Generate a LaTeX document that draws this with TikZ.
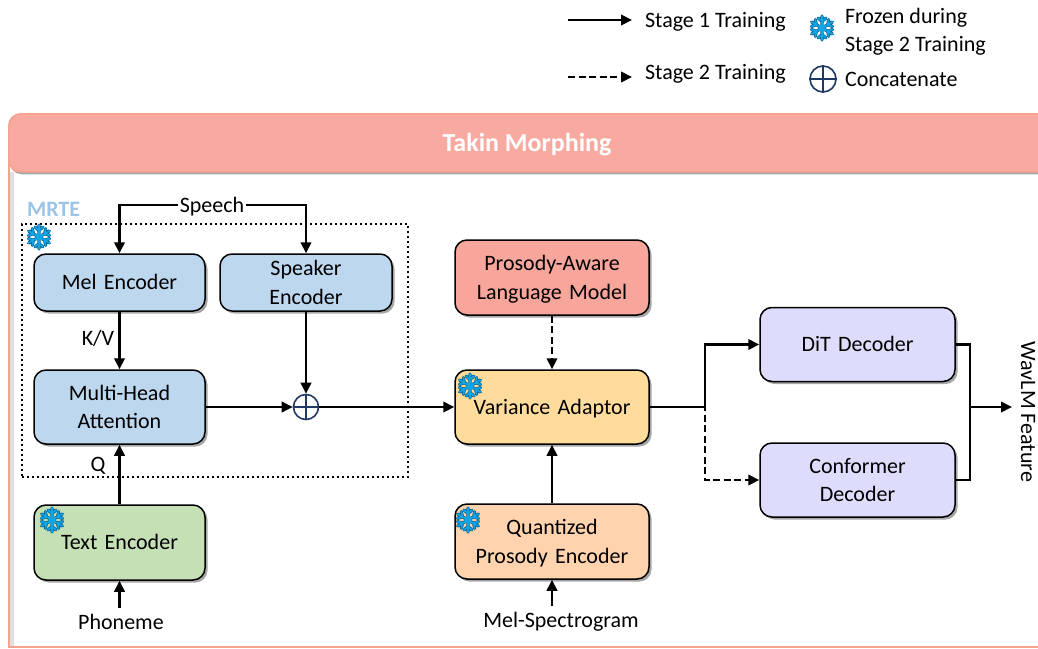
\documentclass[tikz,border=0pt]{standalone}
\usepackage{fontspec}
\setmainfont{Carlito}
\usepackage{xcolor}
\usetikzlibrary{positioning,arrows.meta,shadows}
\definecolor{headcol}{HTML}{F8AAA0}
\definecolor{framecol}{HTML}{F7A28E}
\definecolor{melcol}{HTML}{BDD7EE}
\definecolor{mrtecol}{HTML}{9DC3E6}
\definecolor{textcol}{HTML}{C5E0B4}
\definecolor{plmcol}{HTML}{F8A59B}
\definecolor{varcol}{HTML}{FFDC9C}
\definecolor{quantcol}{HTML}{FFD3AE}
\definecolor{deccol}{HTML}{DEDCFC}
\definecolor{navycol}{HTML}{203864}
\definecolor{flakecol}{HTML}{10A5E5}
\definecolor{flakeedge}{HTML}{0B5F8F}
\tikzset{
->, % arrows on every line
>={Triangle[length=11pt,width=10.5pt]},
x=1pt, y=-1pt,
every node/.style={font=\fontsize{22}{28.5}\selectfont},
block/.style={draw=black, line width=1.5pt, rounded corners=12pt, text width=170pt, align=center, inner sep=0pt,
  drop shadow={shadow xshift=2.5pt, shadow yshift=-2.5pt, opacity=.35, fill=black}},
strutted/.style={execute at begin node={\rule[-5pt]{0pt}{24pt}}},
stagetwo/.style={dash pattern=on 7pt off 3.5pt},
label/.style={inner sep=1pt, text height=19pt, text depth=5pt},
flakeline/.style={-, line cap=round},
snowflake/.pic={
  \foreach \col/\wid in {flakeedge/3.2pt, flakecol/1.7pt}{
    \foreach \ang in {30,90,...,330}{
      \draw[flakeline, draw=\col, line width=\wid, rotate=\ang] (0,0) -- (12,0)
        (6.5,0) -- (10,-4) (6.5,0) -- (10,4);
    }
  }
  \fill[flakecol] (0,0) circle (3.6);
},
}

\begin{document}
\begin{tikzpicture}[line width=2.1pt]
\useasboundingbox (0,0) rectangle (1038,648);
% outer frame
\draw[-, draw=framecol, line width=2pt] (8.5,160) -- (8.5,647) -- (1038,647);
\fill[black, opacity=.12] (10,172) rectangle (14,646);
\node[draw=framecol, fill=headcol, line width=1.5pt, rounded corners=12pt, minimum width=1040pt, minimum height=58pt, inner sep=0pt, anchor=north west,
  drop shadow={shadow xshift=1pt, shadow yshift=-2.5pt, opacity=.35, fill=black}] (head) at (8,113) {};
\node[white, label, font=\fontsize{26}{30}\selectfont\bfseries] (title) at (527,144) {Takin Morphing};
% legend
\coordinate (s1from) at (568,20);
\coordinate (s1to) at (632,20);
\coordinate (s2from) at (568,77);
\coordinate (s2to) at (632,77);
\draw (s1from) -- (s1to);
\draw[stagetwo] (s2from) -- (s2to);
\node[label, anchor=west] (s1text) at (643,20) {Stage 1 Training};
\node[label, anchor=west] (s2text) at (643,72) {Stage 2 Training};
\pic at (822,28) {snowflake};
\node[label, anchor=west] (frozen) at (843,16) {Frozen during};
\node[label, anchor=west] (frozen2) at (843,44) {Stage 2 Training};
\node[circle, draw=navycol, line width=1.6pt, minimum size=26pt, inner sep=0pt] (plusleg) at (823,79) {};
\draw[-, draw=navycol, line width=1.6pt] (plusleg.north) -- (plusleg.south) (plusleg.west) -- (plusleg.east);
\node[label, anchor=west] (concat) at (843,79) {Concatenate};
% MRTE
\node[draw, line width=2.2pt, dash pattern=on 2.2pt off 2.8pt, minimum width=386pt, minimum height=253pt, inner sep=0pt, anchor=north west] (mrte) at (21,223) {};
\node[label, text=mrtecol, anchor=west] (mrtelabel) at (25,209) {\bfseries MRTE};
\node[block, strutted, fill=melcol, minimum width=171pt, minimum height=57pt] (mel) at (119.5,282.5) {Mel Encoder};
\node[block, fill=melcol, minimum width=172pt, minimum height=57pt, right of=mel, node distance=186.5pt] (spk) {Speaker\\Encoder};
\node[block, fill=melcol, minimum width=171pt, minimum height=74pt, below of=mel, node distance=124.5pt] (mha) {Multi-Head\\Attention};
\node[block, strutted, fill=textcol, minimum width=171pt, minimum height=75pt, below of=mha, node distance=135.5pt] (text) {Text Encoder};
\node[circle, draw=navycol, line width=1.6pt, minimum size=25pt, inner sep=0pt, below of=spk, node distance=124.5pt] (plus) {};
\draw[-, draw=navycol, line width=1.6pt] (plus.north) -- (plus.south) (plus.west) -- (plus.east);
\node[label] (speech) at (212,205) {Speech};
\node[label] (kv) at (98,338) {K/V};
\node[label] (q) at (98,464) {Q};
\node[label] (phoneme) at (121,622) {Phoneme};
% middle column
\node[block, strutted, fill=varcol, minimum width=194pt, minimum height=74pt] (var) at (552,407) {Variance Adaptor};
\node[block, strutted, fill=plmcol, minimum width=194pt, minimum height=75pt, above of=var, node distance=129.5pt] (plm) {Prosody-Aware\\Language Model};
\node[block, strutted, fill=quantcol, minimum width=194pt, minimum height=75pt, below of=var, node distance=134.5pt] (quant) {Quantized\\Prosody Encoder};
\node[label] (melspec) at (561,620) {Mel-Spectrogram};
% decoders
\node[block, strutted, fill=deccol, minimum width=195pt, minimum height=74pt] (dit) at (857.5,344.5) {DiT Decoder};
\node[block, fill=deccol, minimum width=195pt, minimum height=74pt, below of=dit, node distance=135.5pt] (conf) {Conformer\\Decoder};
\node[label, rotate=-90] (wavlm) at (1028,412) {WavLM Feature};
\coordinate (split) at (705,407);
\coordinate (merge) at (970,407);
\coordinate (outend) at (1012,407);
% flakes
\pic at (39,237) {snowflake};
\pic at (52,520) {snowflake};
\pic at (470,386) {snowflake};
\pic at (468,520) {snowflake};
% edges
\draw (speech) -| (mel.north);
\draw (speech) -| (spk.north);
\draw (mel) -- (mha);
\draw (text) -- (mha);
\draw (text.south |- phoneme.north) -- (text.south);
\draw (mha) -- (plus);
\draw (spk) -- (plus);
\draw (plus) -- (var);
\draw[stagetwo] (plm) -- (var);
\draw (quant) -- (var);
\draw (quant.south |- melspec.north) -- (quant.south);
\draw[stagetwo] (var.east) -- (split) |- (conf.west);
\draw (var.east) -- (split) |- (dit.west);
\draw[-] (dit.east) -| (merge);
\draw[-] (conf.east) -| (merge);
\draw (merge) -- (outend);
\end{tikzpicture}
\end{document}
